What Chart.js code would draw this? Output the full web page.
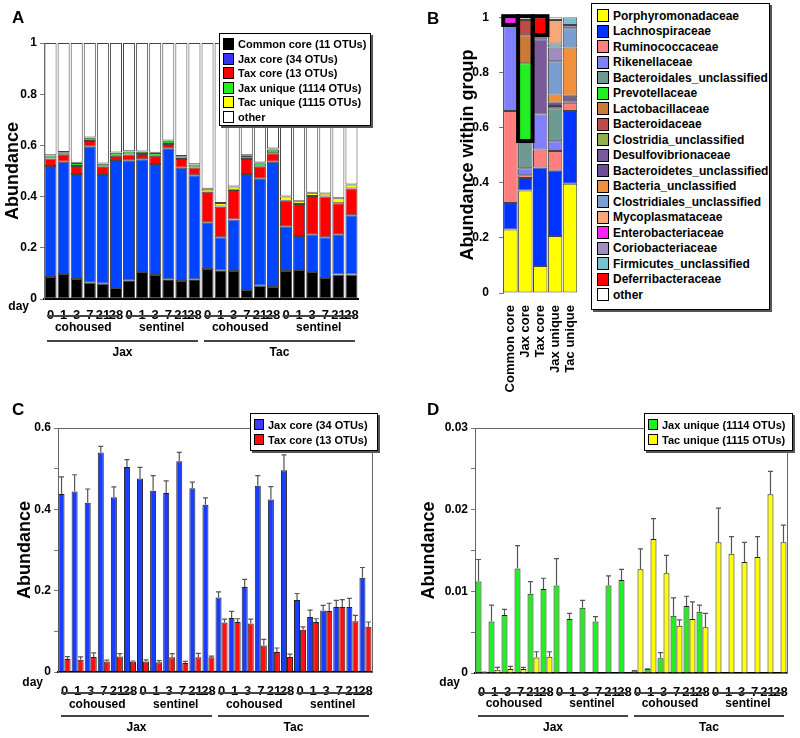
<!DOCTYPE html>
<html>
<head>
<meta charset="utf-8">
<script src="https://cdn.jsdelivr.net/npm/chart.js@4.4.1/dist/chart.umd.min.js"></script>
<style>
  body { margin: 0; background: #fff; font-family: "Liberation Sans", Arial, sans-serif; }
  #page { position: relative; width: 800px; height: 738px; overflow: hidden; }
  canvas { position: absolute; }
  .letter { position: absolute; font-weight: bold; font-size: 17px; }
  .legend { position: absolute; background: #fff; border: 1px solid #000; box-shadow: 2px 2px 0 #555;
            font-weight: bold; box-sizing: border-box; overflow: hidden; }
  .legend div { display: flex; align-items: center; white-space: nowrap; }
  .legend i { display: inline-block; flex: 0 0 auto; border: 1px solid #000; margin-right: 4px; box-sizing: border-box; }
</style>
</head>
<body>
<div id="page">
  <canvas id="chartA" width="400" height="370" style="left:0;top:0"></canvas>
  <canvas id="chartB" width="136" height="400" style="left:454px;top:0"></canvas>
  <canvas id="chartC" width="400" height="348" style="left:0;top:390px"></canvas>
  <canvas id="chartD" width="390" height="348" style="left:410px;top:390px"></canvas>

  <div class="letter" style="left:12px;top:8px">A</div>
  <div class="letter" style="left:427px;top:9px">B</div>
  <div class="letter" style="left:12px;top:400px">C</div>
  <div class="letter" style="left:427px;top:400px">D</div>

  <div class="legend" id="legendA" style="left:219px;top:33px;width:152px;height:93px;padding:3px 3px;font-size:11px"></div>
  <div class="legend" id="legendB" style="left:591px;top:3px;width:179px;height:307px;padding:4px 5px;font-size:12px"></div>
  <div class="legend" id="legendC" style="left:250px;top:413px;width:128px;height:38px;padding:3px 3px;font-size:11px"></div>
  <div class="legend" id="legendD" style="left:644px;top:413px;width:149px;height:38px;padding:3px 3px;font-size:11px"></div>
</div>

<script>
// ---- shared categories ----
const days = ['0', '1', '3', '7', '21', '28'];
const housing = ['cohoused', 'sentinel'];
const strains = ['Jax', 'Tac'];

// ---- panel A: stacked abundance per group/day ----
const aSeries = ['Common core (11 OTUs)', 'Jax core (34 OTUs)', 'Tax core (13 OTUs)',
                 'Jax unique (1114 OTUs)', 'Tac unique (1115 OTUs)', 'other'];
const aColors = ['#000000', '#0044ff', '#ff0000', '#22dd22', '#ffff00', '#ffffff'];
const commonCore = [0.086, 0.098, 0.078, 0.063, 0.060, 0.043, 0.073, 0.105, 0.094, 0.077, 0.070, 0.077,
                    0.117, 0.112, 0.109, 0.035, 0.052, 0.047, 0.109, 0.113, 0.105, 0.082, 0.096, 0.096];
const jaxCore = [0.434, 0.438, 0.410, 0.532, 0.424, 0.496, 0.467, 0.441, 0.433, 0.510, 0.443, 0.406,
                 0.181, 0.129, 0.202, 0.453, 0.418, 0.489, 0.175, 0.133, 0.148, 0.159, 0.157, 0.231];
const taxCore = [0.029, 0.027, 0.032, 0.022, 0.033, 0.021, 0.024, 0.020, 0.033, 0.018, 0.034, 0.031,
                 0.121, 0.119, 0.115, 0.059, 0.047, 0.033, 0.100, 0.125, 0.149, 0.159, 0.121, 0.105];
const jaxUnique = [0.012, 0.010, 0.011, 0.013, 0.011, 0.011, 0.012, 0.009, 0.010, 0.013, 0.011, 0.011,
                   0.001, 0.001, 0.001, 0.012, 0.013, 0.015, 0, 0, 0, 0, 0, 0];
const tacUnique = [0.001, 0.001, 0.001, 0.001, 0.001, 0.001, 0.001, 0.001, 0.001, 0.001, 0.001, 0.001,
                   0.011, 0.014, 0.012, 0.003, 0.003, 0.004, 0.016, 0.011, 0.013, 0.012, 0.020, 0.015];
const otherA = [0.438, 0.426, 0.468, 0.369, 0.471, 0.428, 0.423, 0.424, 0.429, 0.381, 0.441, 0.474,
                0.569, 0.625, 0.561, 0.438, 0.467, 0.412, 0.600, 0.618, 0.585, 0.588, 0.606, 0.553];

// ---- panel B: family composition within each OTU group ----
const bGroups = ['Common core', 'Jax core', 'Tax core', 'Jax unique', 'Tac unique'];
const families = ['Porphyromonadaceae', 'Lachnospiraceae', 'Ruminococcaceae', 'Rikenellaceae',
  'Bacteroidales_unclassified', 'Prevotellaceae', 'Lactobacillaceae', 'Bacteroidaceae',
  'Clostridia_unclassified', 'Desulfovibrionaceae', 'Bacteroidetes_unclassified', 'Bacteria_unclassified',
  'Clostridiales_unclassified', 'Mycoplasmataceae', 'Enterobacteriaceae', 'Coriobacteriaceae',
  'Firmicutes_unclassified', 'Deferribacteraceae', 'other'];
const familyColors = ['#ffff00', '#0033ff', '#ff7f7f', '#8080ff', '#6f9a94', '#22ee22', '#cc7a3a',
  '#c04a4a', '#8fb04a', '#7a5a9a', '#6e4f96', '#f0903c', '#7a9ed0', '#f8a878', '#ff22ff', '#a08cc0',
  '#78c0d0', '#ff0000', '#ffffff'];
// share of each family, bars in bGroups order
const familyShares = {
  'Porphyromonadaceae':         [0.230, 0.372, 0.098, 0.207, 0.396],
  'Lachnospiraceae':            [0.096, 0.045, 0.357, 0.236, 0.264],
  'Ruminococcaceae':            [0.334, 0.010, 0.065, 0.072, 0.030],
  'Rikenellaceae':              [0.312, 0.025, 0.127, 0.035, 0],
  'Bacteroidales_unclassified': [0, 0.099, 0, 0.120, 0],
  'Prevotellaceae':             [0, 0.282, 0, 0, 0],
  'Lactobacillaceae':           [0, 0.102, 0, 0, 0],
  'Bacteroidaceae':             [0, 0.055, 0, 0, 0],
  'Clostridia_unclassified':    [0, 0, 0, 0.008, 0.005],
  'Desulfovibrionaceae':        [0, 0, 0.273, 0, 0.020],
  'Bacteroidetes_unclassified': [0, 0, 0, 0.012, 0],
  'Bacteria_unclassified':      [0, 0, 0, 0.030, 0.175],
  'Clostridiales_unclassified': [0, 0, 0.015, 0.120, 0.070],
  'Coriobacteriaceae':          [0, 0, 0, 0.050, 0.012],
  'Firmicutes_unclassified':    [0, 0, 0, 0.015, 0.028],
  'Mycoplasmataceae':           [0, 0, 0, 0.085, 0],
  'Enterobacteriaceae':         [0.028, 0, 0, 0, 0],
  'Deferribacteraceae':         [0, 0, 0.065, 0, 0],
  'other':                      [0, 0.010, 0, 0.010, 0]
};
// stacking order from bottom (legend order differs slightly)
const stackOrder = ['Porphyromonadaceae', 'Lachnospiraceae', 'Ruminococcaceae', 'Rikenellaceae',
  'Bacteroidales_unclassified', 'Prevotellaceae', 'Lactobacillaceae', 'Bacteroidaceae',
  'Clostridia_unclassified', 'Desulfovibrionaceae', 'Bacteroidetes_unclassified', 'Bacteria_unclassified',
  'Clostridiales_unclassified', 'Coriobacteriaceae', 'Firmicutes_unclassified', 'Mycoplasmataceae',
  'Enterobacteriaceae', 'Deferribacteraceae', 'other'];
// outlined segments: bar index and lower bound (up to 1)
const highlightBars = [0, 1, 2];
const highlightLow = [0.972, 0.551, 0.935];

// ---- panel C: core OTU abundance (mean + SE) ----
const jaxCoreMean = [0.438, 0.444, 0.416, 0.540, 0.430, 0.504, 0.476, 0.446, 0.440, 0.518, 0.452, 0.411,
                     0.183, 0.133, 0.209, 0.458, 0.424, 0.496, 0.177, 0.135, 0.151, 0.160, 0.160, 0.232];
const jaxCoreErr = [0.042, 0.041, 0.034, 0.015, 0.025, 0.018, 0.027, 0.037, 0.030, 0.022, 0.015, 0.017,
                    0.014, 0.016, 0.019, 0.025, 0.032, 0.038, 0.016, 0.017, 0.013, 0.016, 0.021, 0.025];
const taxCoreMean = [0.032, 0.030, 0.037, 0.026, 0.038, 0.025, 0.026, 0.024, 0.036, 0.022, 0.036, 0.036,
                     0.122, 0.123, 0.119, 0.065, 0.049, 0.037, 0.104, 0.123, 0.150, 0.160, 0.125, 0.111];
const taxCoreErr = [0.006, 0.007, 0.010, 0.003, 0.007, 0.002, 0.004, 0.004, 0.009, 0.004, 0.010, 0.003,
                    0.008, 0.008, 0.011, 0.015, 0.010, 0.007, 0.007, 0.008, 0.019, 0.018, 0.014, 0.012];

// ---- panel D: unique OTU abundance (mean + SE) ----
const jaxUniqueMean = [0.0112, 0.0063, 0.0071, 0.0128, 0.0097, 0.0103, 0.0107, 0.0066, 0.0080, 0.0063, 0.0107, 0.0114,
                       0.0003, 0.0005, 0.0018, 0.0070, 0.0082, 0.0075, null, null, null, null, null, null];
const jaxUniqueErr = [0.0027, 0.0020, 0.0007, 0.0028, 0.0015, 0.0013, 0.0033, 0.0007, 0.0009, 0.0006, 0.0012, 0.0013,
                      0, 0, 0.0007, 0.0022, 0.0012, 0.0008, null, null, null, null, null, null];
const tacUniqueMean = [0.0001, 0.0004, 0.0005, 0.0005, 0.0019, 0.0020, null, null, null, null, null, null,
                       0.0127, 0.0164, 0.0122, 0.0058, 0.0066, 0.0056, 0.0160, 0.0146, 0.0136, 0.0142, 0.0219, 0.0160];
const tacUniqueErr = [0, 0.0003, 0.0003, 0.0002, 0.0007, 0.0006, null, null, null, null, null, null,
                      0.0025, 0.0025, 0.0022, 0.0007, 0.0021, 0.0017, 0.0042, 0.0021, 0.0024, 0.0025, 0.0028, 0.0021];

// ---- helpers ----
const FONT = '"Liberation Sans", Arial, sans-serif';
const labels24 = strains.flatMap(() => housing.flatMap(() => days));

// brackets: cohoused/sentinel and Jax/Tac rows under the day ticks
const bracketRows = [
  { span: 6, names: strains.flatMap(() => housing) },
  { span: 12, names: strains }
];

const bracketPlugin = {
  id: 'brackets',
  afterDraw(chart, args, opts) {
    const { ctx, chartArea } = chart;
    const x = chart.scales.x;
    const half = (x.getPixelForValue(1) - x.getPixelForValue(0)) / 2;
    ctx.save();
    ctx.font = 'bold 12px ' + FONT;
    ctx.fillStyle = '#000';
    ctx.strokeStyle = '#444';
    ctx.lineWidth = 2;
    ctx.textAlign = 'center';
    ctx.textBaseline = 'middle';
    bracketRows.forEach((row, r) => {
      row.names.forEach((name, g) => {
        const x0 = x.getPixelForValue(g * row.span) - half + 3;
        const x1 = x.getPixelForValue(g * row.span + row.span - 1) + half - 3;
        const yl = chartArea.bottom + opts.lines[r];
        ctx.beginPath();
        ctx.moveTo(x0, yl);
        ctx.lineTo(x1, yl);
        ctx.stroke();
        ctx.fillText(name, (x0 + x1) / 2, chartArea.bottom + opts.texts[r]);
      });
    });
    ctx.textAlign = 'right';
    ctx.fillText('day', chartArea.left - 15, chartArea.bottom + opts.dayY);
    ctx.restore();
  }
};

const errorBarPlugin = {
  id: 'errorBars',
  afterDatasetsDraw(chart) {
    const { ctx } = chart;
    const y = chart.scales.y;
    ctx.save();
    ctx.strokeStyle = '#555';
    ctx.lineWidth = 1.2;
    chart.data.datasets.forEach((ds, i) => {
      if (!ds.errors) return;
      chart.getDatasetMeta(i).data.forEach((bar, j) => {
        const v = ds.data[j], e = ds.errors[j];
        if (v == null || e == null) return;
        const yt = y.getPixelForValue(v + e);
        ctx.beginPath();
        ctx.moveTo(bar.x, bar.y);
        ctx.lineTo(bar.x, yt);
        ctx.moveTo(bar.x - 2.5, yt);
        ctx.lineTo(bar.x + 2.5, yt);
        ctx.stroke();
      });
    });
    ctx.restore();
  }
};

const framePlugin = {
  id: 'frame',
  beforeDatasetsDraw(chart) {
    const { ctx, chartArea: a } = chart;
    ctx.save();
    ctx.strokeStyle = '#666';
    ctx.lineWidth = 1;
    ctx.strokeRect(a.left + 0.5, a.top + 0.5, a.right - a.left, a.bottom - a.top);
    ctx.restore();
  }
};

const highlightPlugin = {
  id: 'highlight',
  afterDatasetsDraw(chart) {
    const { ctx } = chart;
    const y = chart.scales.y;
    const meta = chart.getDatasetMeta(0);
    ctx.save();
    ctx.strokeStyle = '#000';
    ctx.lineWidth = 4;
    highlightBars.forEach((b, k) => {
      const bar = meta.data[b];
      const top = y.getPixelForValue(1) - 1;
      const bot = y.getPixelForValue(highlightLow[k]);
      ctx.strokeRect(bar.x - bar.width / 2, top, bar.width, bot - top);
    });
    ctx.restore();
  }
};

function yAxis(opts) {
  return {
    min: 0,
    max: opts.max,
    afterFit: s => { s.width = opts.width; },
    title: { display: true, text: opts.title, color: '#000',
             font: { family: FONT, size: 18, weight: 'bold' }, padding: { top: opts.titlePad, bottom: 0 } },
    ticks: { stepSize: opts.step, color: '#000', padding: opts.tickPad || 3,
             font: { family: FONT, size: 12, weight: 'bold' }, callback: opts.cb },
    grid: { drawOnChartArea: false, drawTicks: true, tickLength: 4, color: '#777' },
    border: { color: '#777' }
  };
}

function xAxis(height, pad) {
  return {
    afterFit: s => { s.height = height; },
    ticks: { autoSkip: false, maxRotation: 0, color: '#000', padding: pad,
             font: { family: FONT, size: 13, weight: 'bold' } },
    grid: { display: false },
    border: { color: '#000', width: 2 }
  };
}

// ---- chart A ----
const aData = [commonCore, jaxCore, taxCore, jaxUnique, tacUnique, otherA];
new Chart(document.getElementById('chartA'), {
  type: 'bar',
  data: {
    labels: labels24,
    datasets: aSeries.map((name, i) => ({
      label: name, data: aData[i], backgroundColor: aColors[i],
      borderColor: '#444', borderWidth: 1, borderSkipped: false,
      barPercentage: 0.92, categoryPercentage: 1
    }))
  },
  options: {
    responsive: false, animation: false,
    layout: { padding: { top: 43, right: 42, left: 0, bottom: 0 } },
    plugins: { legend: { display: false }, tooltip: { enabled: false },
               brackets: { lines: [17, 42], texts: [29, 54], dayY: 8 } },
    scales: {
      x: { ...xAxis(71, 1), stacked: true },
      y: { ...yAxis({ max: 1, width: 44, step: 0.2, title: 'Abundance', titlePad: 2 }), stacked: true }
    }
  },
  plugins: [bracketPlugin]
});

// ---- chart B ----
new Chart(document.getElementById('chartB'), {
  type: 'bar',
  data: {
    labels: bGroups,
    datasets: stackOrder.map(f => ({
      label: f, data: familyShares[f], backgroundColor: familyColors[families.indexOf(f)],
      borderColor: '#444', borderWidth: 1, borderSkipped: false,
      barPercentage: 0.97, categoryPercentage: 1
    }))
  },
  options: {
    responsive: false, animation: false,
    layout: { padding: { top: 15, right: 4, left: 0, bottom: 0 } },
    plugins: { legend: { display: false }, tooltip: { enabled: false } },
    scales: {
      x: { stacked: true,
           afterFit: s => { s.height = 107; },
           ticks: { autoSkip: false, maxRotation: 90, minRotation: 90, color: '#000', padding: 4,
                    font: { family: FONT, size: 13, weight: 'bold' } },
           grid: { display: false }, border: { display: false } },
      y: { ...yAxis({ max: 1, width: 49, step: 0.2, title: 'Abundance within group', titlePad: 3, tickPad: 10 }),
           stacked: true }
    }
  },
  plugins: [highlightPlugin]
});

// ---- chart C ----
new Chart(document.getElementById('chartC'), {
  type: 'bar',
  data: {
    labels: labels24,
    datasets: [
      { label: 'Jax core (34 OTUs)', data: jaxCoreMean, errors: jaxCoreErr, backgroundColor: '#1a3cff' },
      { label: 'Tax core (13 OTUs)', data: taxCoreMean, errors: taxCoreErr, backgroundColor: '#ff1010' }
    ].map(d => ({ ...d, borderColor: '#222', borderWidth: 1, borderSkipped: 'start',
                  barPercentage: 1, categoryPercentage: 0.92 }))
  },
  options: {
    responsive: false, animation: false,
    layout: { padding: { top: 38, right: 28, left: 0, bottom: 0 } },
    plugins: { legend: { display: false }, tooltip: { enabled: false },
               brackets: { lines: [21, 44], texts: [33, 56], dayY: 11 } },
    scales: {
      x: xAxis(66, 4),
      y: yAxis({ max: 0.6, width: 58, step: 0.1, title: 'Abundance', titlePad: 14,
                 cb: (v, i) => (i % 2 ? '' : String(Math.round(v * 10) / 10)) })
    }
  },
  plugins: [framePlugin, errorBarPlugin, bracketPlugin]
});

// ---- chart D ----
new Chart(document.getElementById('chartD'), {
  type: 'bar',
  data: {
    labels: labels24,
    datasets: [
      { label: 'Jax unique (1114 OTUs)', data: jaxUniqueMean, errors: jaxUniqueErr, backgroundColor: '#22ee22' },
      { label: 'Tac unique (1115 OTUs)', data: tacUniqueMean, errors: tacUniqueErr, backgroundColor: '#ffff00' }
    ].map(d => ({ ...d, borderColor: '#222', borderWidth: 1, borderSkipped: 'start',
                  barPercentage: 1, categoryPercentage: 0.92 }))
  },
  options: {
    responsive: false, animation: false,
    layout: { padding: { top: 38, right: 13, left: 0, bottom: 0 } },
    plugins: { legend: { display: false }, tooltip: { enabled: false },
               brackets: { lines: [20, 43], texts: [31, 55], dayY: 10 } },
    scales: {
      x: xAxis(65, 4),
      y: yAxis({ max: 0.03, width: 65, step: 0.005, title: 'Abundance', titlePad: 8,
                 cb: (v, i) => (i % 2 ? '' : String(Math.round(v * 100) / 100)) })
    }
  },
  plugins: [framePlugin, errorBarPlugin, bracketPlugin]
});

// ---- legends ----
function fillLegend(id, names, colors, rowH, sw) {
  document.getElementById(id).innerHTML = names.map((n, i) =>
    `<div style="height:${rowH}px"><i style="width:${sw[0]}px;height:${sw[1]}px;background:${colors[i]}"></i>${n}</div>`
  ).join('');
}
fillLegend('legendA', aSeries, ['#000000', '#3333ff', '#ff0000', '#22ee22', '#ffff00', '#ffffff'], 14.5, [11, 12]);
fillLegend('legendB', families, familyColors, 15.5, [12, 13]);
fillLegend('legendC', ['Jax core (34 OTUs)', 'Tax core (13 OTUs)'], ['#3b3bff', '#ff1010'], 15, [10, 11]);
fillLegend('legendD', ['Jax unique (1114 OTUs)', 'Tac unique (1115 OTUs)'], ['#22ee22', '#ffff00'], 15, [10, 11]);
</script>
</body>
</html>
